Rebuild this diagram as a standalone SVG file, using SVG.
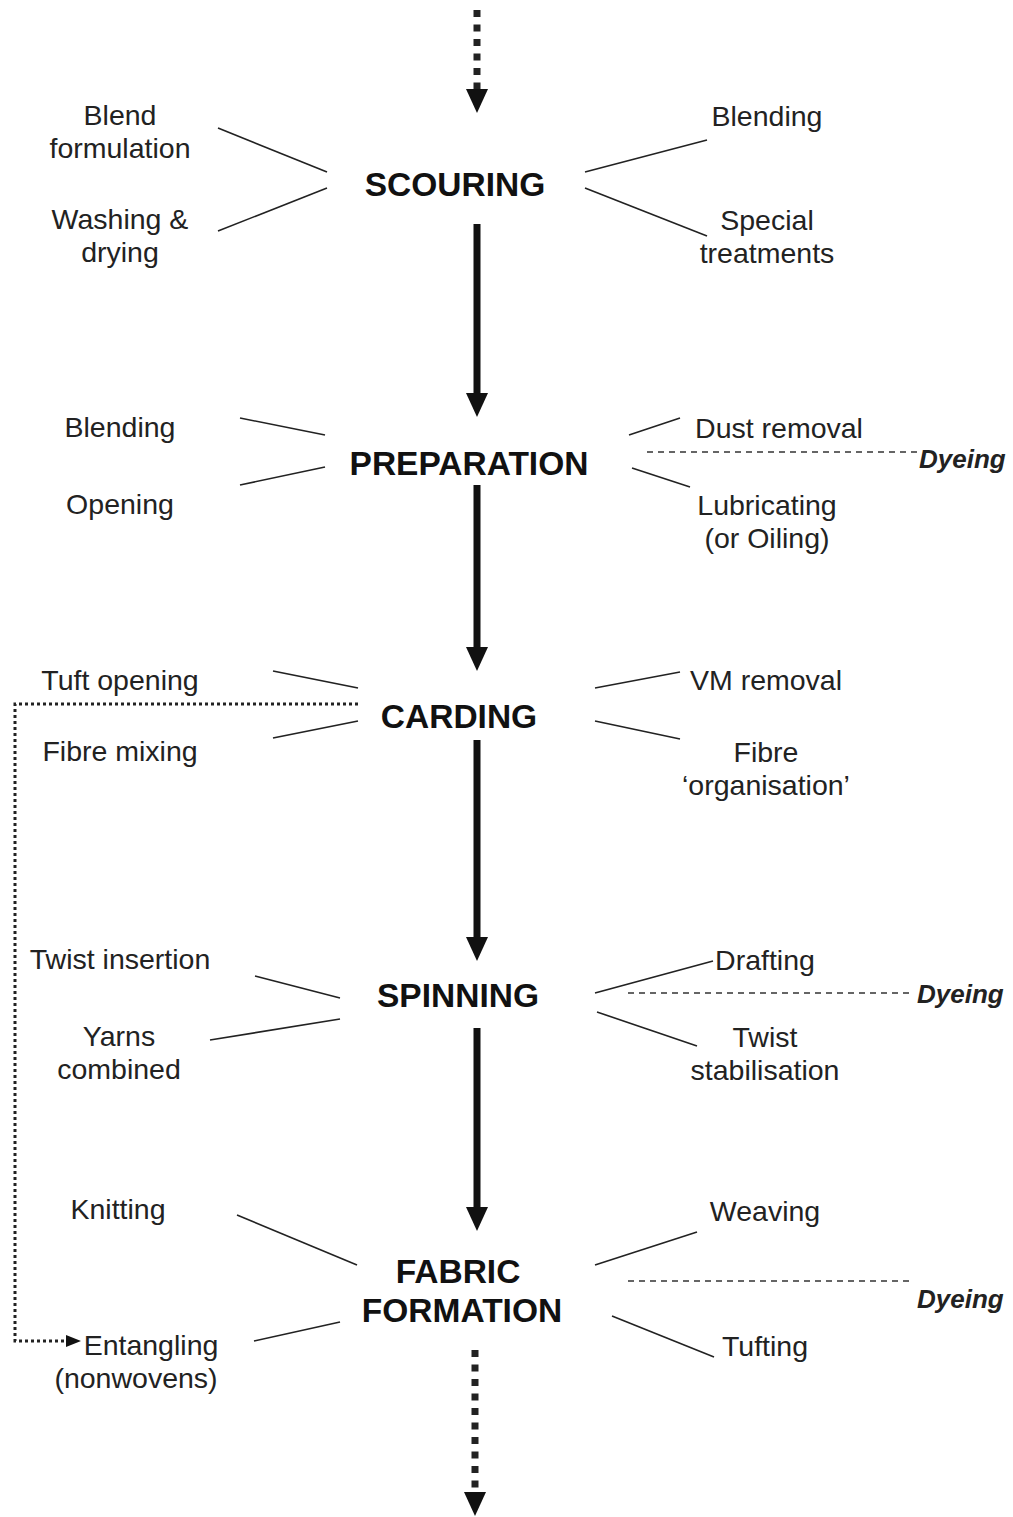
<svg xmlns="http://www.w3.org/2000/svg" width="1013" height="1517" viewBox="0 0 1013 1517">
<defs>
<style>
.lbl{font-family:"Liberation Sans",Arial,sans-serif;font-size:28.5px;fill:#222;text-anchor:middle}
.hd{font-family:"Liberation Sans",Arial,sans-serif;font-size:33.5px;font-weight:bold;fill:#111;text-anchor:middle}
.dy{font-family:"Liberation Sans",Arial,sans-serif;font-size:26px;font-weight:bold;font-style:italic;fill:#222}
.ln{stroke:#222;stroke-width:1.6;fill:none}
.dash{stroke:#333;stroke-width:1.5;stroke-dasharray:6 5;fill:none}
.dot{stroke:#222;stroke-width:3;stroke-dasharray:3 3;fill:none}
.shaft{stroke:#111;stroke-width:7;fill:none}
.bigdot{stroke:#222;stroke-width:7;stroke-dasharray:7 7.5;fill:none}
.head{fill:#111}
</style>
</defs>
<rect width="1013" height="1517" fill="#fff"/>

<g id="flow">
<line class="bigdot" x1="477" y1="10" x2="477" y2="90"/>
<polygon class="head" points="466,89 488,89 477,113"/>
<line class="shaft" x1="477" y1="224" x2="477" y2="396"/>
<polygon class="head" points="466,393 488,393 477,417"/>
<line class="shaft" x1="477" y1="485" x2="477" y2="650"/>
<polygon class="head" points="466,647 488,647 477,671"/>
<line class="shaft" x1="477" y1="740" x2="477" y2="940"/>
<polygon class="head" points="466,937 488,937 477,961"/>
<line class="shaft" x1="477" y1="1028" x2="477" y2="1210"/>
<polygon class="head" points="466,1207 488,1207 477,1231"/>
<line class="bigdot" x1="475" y1="1350" x2="475" y2="1492"/>
<polygon class="head" points="464,1492 486,1492 475,1516"/>
</g>

<g id="scouring">
<text class="hd" x="455" y="196">SCOURING</text>
<text class="lbl" x="120" y="125">Blend</text>
<text class="lbl" x="120" y="158">formulation</text>
<text class="lbl" x="120" y="229">Washing &amp;</text>
<text class="lbl" x="120" y="262">drying</text>
<text class="lbl" x="767" y="126">Blending</text>
<text class="lbl" x="767" y="230">Special</text>
<text class="lbl" x="767" y="263">treatments</text>
</g>

<g id="preparation">
<text class="hd" x="469" y="475">PREPARATION</text>
<text class="lbl" x="120" y="437">Blending</text>
<text class="lbl" x="120" y="514">Opening</text>
<text class="lbl" x="779" y="438">Dust removal</text>
<text class="lbl" x="767" y="515">Lubricating</text>
<text class="lbl" x="767" y="548">(or Oiling)</text>
<text class="dy" x="919" y="468">Dyeing</text>
</g>

<g id="carding">
<text class="hd" x="459" y="728">CARDING</text>
<text class="lbl" x="120" y="690">Tuft opening</text>
<text class="lbl" x="120" y="761">Fibre mixing</text>
<text class="lbl" x="766" y="690">VM removal</text>
<text class="lbl" x="766" y="762">Fibre</text>
<text class="lbl" x="766" y="795">‘organisation’</text>
</g>

<g id="spinning">
<text class="hd" x="458" y="1007">SPINNING</text>
<text class="lbl" x="120" y="969">Twist insertion</text>
<text class="lbl" x="119" y="1046">Yarns</text>
<text class="lbl" x="119" y="1079">combined</text>
<text class="lbl" x="765" y="970">Drafting</text>
<text class="lbl" x="765" y="1047">Twist</text>
<text class="lbl" x="765" y="1080">stabilisation</text>
<text class="dy" x="917" y="1003">Dyeing</text>
</g>

<g id="fabric">
<text class="hd" x="458" y="1283">FABRIC</text>
<text class="hd" x="462" y="1322">FORMATION</text>
<text class="lbl" x="118" y="1219">Knitting</text>
<text class="lbl" x="151" y="1355">Entangling</text>
<text class="lbl" x="136" y="1388">(nonwovens)</text>
<text class="lbl" x="765" y="1221">Weaving</text>
<text class="lbl" x="765" y="1356">Tufting</text>
<text class="dy" x="917" y="1308">Dyeing</text>
</g>

<g id="connectors">
<line class="ln" x1="218" y1="128" x2="327" y2="172"/>
<line class="ln" x1="218" y1="231" x2="327" y2="188"/>
<line class="ln" x1="585" y1="172" x2="707" y2="140"/>
<line class="ln" x1="585" y1="188" x2="707" y2="236"/>

<line class="ln" x1="240" y1="418" x2="325" y2="435"/>
<line class="ln" x1="240" y1="485" x2="325" y2="467"/>
<line class="ln" x1="629" y1="435" x2="680" y2="418"/>
<line class="ln" x1="632" y1="468" x2="690" y2="487"/>
<line class="dash" x1="647" y1="452" x2="918" y2="452"/>

<line class="ln" x1="273" y1="671" x2="358" y2="688"/>
<line class="ln" x1="273" y1="738" x2="358" y2="721"/>
<line class="ln" x1="595" y1="688" x2="680" y2="672"/>
<line class="ln" x1="595" y1="721" x2="680" y2="739"/>
<polyline class="dot" points="358,704 15,704 15,1341 66,1341"/>
<polygon class="head" points="66,1335 81,1341 66,1347"/>

<line class="ln" x1="255" y1="976" x2="340" y2="998"/>
<line class="ln" x1="210" y1="1040" x2="340" y2="1019"/>
<line class="ln" x1="595" y1="993" x2="713" y2="961"/>
<line class="ln" x1="597" y1="1012" x2="697" y2="1046"/>
<line class="dash" x1="628" y1="993" x2="911" y2="993"/>

<line class="ln" x1="237" y1="1215" x2="357" y2="1265"/>
<line class="ln" x1="254" y1="1341" x2="340" y2="1322"/>
<line class="ln" x1="595" y1="1265" x2="697" y2="1232"/>
<line class="ln" x1="612" y1="1316" x2="714" y2="1357"/>
<line class="dash" x1="628" y1="1281" x2="912" y2="1281"/>
</g>
</svg>
